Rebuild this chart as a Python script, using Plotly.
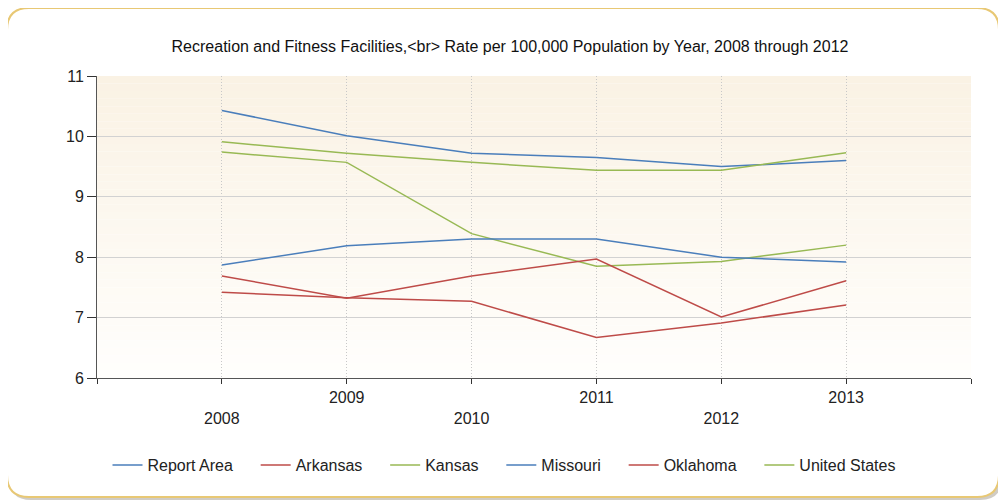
import plotly.graph_objects as go

years = [2008, 2009, 2010, 2011, 2012, 2013]

report_area = [10.43, 10.01, 9.72, 9.65, 9.50, 9.60]
arkansas = [7.42, 7.33, 7.27, 6.67, 6.91, 7.21]
kansas = [9.74, 9.57, 8.39, 7.85, 7.93, 8.20]
missouri = [7.87, 8.19, 8.30, 8.30, 8.00, 7.92]
oklahoma = [7.69, 7.32, 7.69, 7.97, 7.01, 7.61]
united_states = [9.91, 9.72, 9.57, 9.44, 9.44, 9.73]

series_names = ['Report Area', 'Arkansas', 'Kansas', 'Missouri', 'Oklahoma', 'United States']
series_values = [report_area, arkansas, kansas, missouri, oklahoma, united_states]

x_tick_vals = [2007, 2008, 2009, 2010, 2011, 2012, 2013, 2014]
x_tick_text = ['', '<br>2008', '2009', '<br>2010', '2011', '<br>2012', '2013', '']
y_tick_vals = [6, 7, 8, 9, 10, 11]

BLUE = '#4a7ebb'
RED = '#be4b48'
GREEN = '#98b954'
colors = [BLUE, RED, GREEN, BLUE, RED, GREEN]

# the page body has an 8px margin, so the figure is shrunk to fit the window
OFF = 8
SW, SH = 1006, 504           # screen size
W, H = SW - OFF, SH - OFF    # figure size
PL, PR, PT, PB = 97, 971, 76, 378   # plot area on screen
FONT = 'Liberation Sans'
PAD = '\u00a0\u00a0\u00a0\u00a0'


def fx(px):
    return (px - PL) / (PR - PL)


def fy(py):
    return (PB - py) / (PB - PT)


def rounded_rect(x0, y0, x1, y1, r):
    pts = [
        ('M', x0 + r, y0), ('L', x1 - r, y0), ('Q', x1, y0, x1, y0 + r),
        ('L', x1, y1 - r), ('Q', x1, y1, x1 - r, y1),
        ('L', x0 + r, y1), ('Q', x0, y1, x0, y1 - r),
        ('L', x0, y0 + r), ('Q', x0, y0, x0 + r, y0),
    ]
    path = ''
    for p in pts:
        cmd = p[0]
        coords = p[1:]
        parts = []
        for i in range(0, len(coords), 2):
            parts.append('%.5f,%.5f' % (fx(coords[i]), fy(coords[i + 1])))
        path += cmd + ' '.join(parts) + ' '
    return path + 'Z'


fig = go.Figure()

for name, vals, col in zip(series_names, series_values, colors):
    fig.add_trace(go.Scatter(
        x=years, y=vals, name=name + PAD, mode='lines',
        line=dict(color=col, width=1.5)
    ))

shapes = []
# drop shadow and golden frame
shapes.append(dict(type='path', xref='paper', yref='paper', layer='below',
                   path=rounded_rect(9, 11, 1002, 500, 22),
                   fillcolor='rgba(120,110,90,0.35)', line=dict(width=0)))
shapes.append(dict(type='path', xref='paper', yref='paper', layer='below',
                   path=rounded_rect(7, 8, 999, 497, 22),
                   fillcolor='white', line=dict(color='#e8c874', width=2)))

# vertical gradient in the plot area
top_c = (250, 242, 228)
bot_c = (255, 254, 252)
n = 40
for i in range(n):
    t = i / (n - 1)
    c = tuple(int(round(top_c[k] + (bot_c[k] - top_c[k]) * t)) for k in range(3))
    shapes.append(dict(type='rect', xref='x domain', yref='y domain', layer='below',
                       x0=0, x1=1, y0=1 - (i + 1) / n, y1=1 - i / n,
                       fillcolor='rgb(%d,%d,%d)' % c, line=dict(width=0)))

fig.update_layout(
    width=W, height=H,
    margin=dict(l=PL - OFF, r=SW - PR, t=PT - OFF, b=SH - PB),
    paper_bgcolor='white',
    plot_bgcolor='rgba(0,0,0,0)',
    font=dict(family=FONT, size=16, color='#222222'),
    title=dict(
        text='Recreation and Fitness Facilities,&lt;br&gt; Rate per 100,000 Population by Year, 2008 through 2012',
        font=dict(family=FONT, size=16, color='#111111'),
        xref='container', x=(510 - OFF) / W, xanchor='center',
        yref='container', y=1 - (46 - OFF) / H, yanchor='middle',
    ),
    xaxis=dict(
        range=[2007, 2014], tickvals=x_tick_vals, ticktext=x_tick_text,
        showgrid=True, gridcolor='#c8c8c8', griddash='1px,2px', gridwidth=1,
        showline=True, linecolor='#555555', linewidth=1,
        ticks='outside', ticklen=5, tickcolor='#333333',
        tickfont=dict(size=16, color='#222222'), zeroline=False,
    ),
    yaxis=dict(
        range=[6, 11], tickvals=y_tick_vals,
        showgrid=True, gridcolor='#d2d2d2', gridwidth=1,
        showline=True, linecolor='#555555', linewidth=1,
        ticks='outside', ticklen=9, tickcolor='#333333',
        tickfont=dict(size=16, color='#222222'), zeroline=False,
    ),
    legend=dict(
        orientation='h', x=fx(513), xanchor='center',
        y=fy(465), yanchor='middle',
        font=dict(size=16, color='#222222'),
        bgcolor='rgba(0,0,0,0)',
    ),
    shapes=shapes,
)

fig.write_html('out.html')
